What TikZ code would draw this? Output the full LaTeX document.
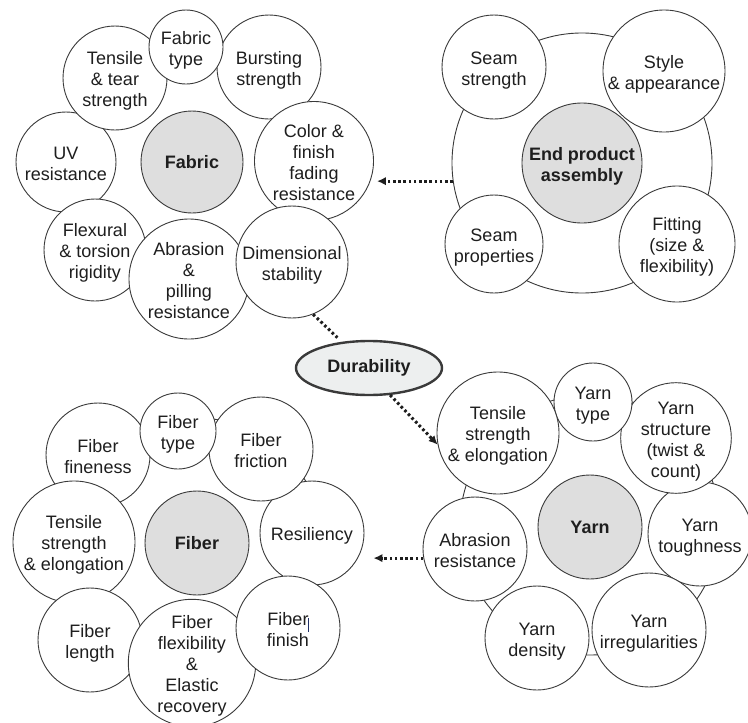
\documentclass[tikz,border=0pt]{standalone}
\usepackage{fontspec}
\setmainfont{Liberation Sans}
\usetikzlibrary{shapes.geometric,arrows.meta,calc}
\definecolor{ink}{HTML}{1E1E1E}
\definecolor{edge}{HTML}{3A3A3A}
\definecolor{hub}{HTML}{DEDEDE}
\definecolor{durfill}{HTML}{EDEFEF}
\definecolor{cursor}{HTML}{1F2F66}
% struts give every label the same height and depth, so the lines sit centred
\newcommand{\uprule}{\rule{0pt}{19pt}}
\newcommand{\dnrule}{\rule[-4pt]{0pt}{4pt}}
\newcommand{\lbl}[1]{\uprule#1\dnrule}
\begin{document}
\begin{tikzpicture}[x=1pt,y=-1pt,
  font=\fontsize{18}{21}\selectfont, text=ink,
  rad/.style={minimum size={2*#1pt}},
  bub/.style={circle, draw=edge, line width=0.9pt, fill=white, inner sep=0pt, align=center},
  hubc/.style={bub, fill=hub, font=\fontsize{18}{21}\selectfont\bfseries},
  ring/.style={circle, draw=edge, line width=0.9pt, fill=white, inner sep=0pt},
  dots/.style={draw=ink, line width=3pt, dash pattern=on 2.6pt off 2.6pt},
  darr/.style={dots, -{Latex[length=9pt,width=8.5pt]}}
]
\useasboundingbox (0,0) rectangle (748,723);
\fill[white] (0,0) rectangle (748,723);

% ---------- Fabric ----------
\node[bub,rad=50] (uv)   at (66,162)  {\lbl{UV\\resistance}};
\node[bub,rad=51] (flex) at (95,250)  {\lbl{Flexural\\\& torsion\\rigidity}};
\node[bub,rad=52] (tens) at (115,78)  {\lbl{Tensile\\\& tear\\strength}};
\node[bub,rad=52] (burst) at (269,67) {\lbl{Bursting\\strength}};
\node[bub,rad=37] (ftype) at (186,47) {\lbl{Fabric\\type}};
\node[bub,rad=56] (color) at (314,161) {\lbl{Color \&\\finish\\fading\\resistance}};
\node[bub,rad=60] (abr)  at (189,279) {\lbl{Abrasion\\\&\\pilling\\resistance}};
\node[bub,rad=56] (dim)  at (292,262) {\lbl{Dimensional\\stability}};
\node[hubc,rad=51] (fabric) at (192,162) {Fabric};

% ---------- End product assembly ----------
\node[ring,rad=130] (bigE) at (582,163) {};
\node[hubc,rad=60] (endp) at (582,163) {\lbl{End product\\assembly}};
\node[bub,rad=52] (sstr) at (494,67)  {\lbl{Seam\\strength}};
\node[bub,rad=61] (style) at (664,71) {\lbl{Style\\\& appearance}};
\node[bub,rad=49] (sprop) at (494,244) {\lbl{Seam\\properties}};
\node[bub,rad=58] (fit)  at (677,244) {\lbl{Fitting\\(size \&\\flexibility)}};

% ---------- Yarn ----------
\node[ring,rad=130] (bigY) at (590,525) {};
\node[hubc,rad=52] (yarn) at (590,527) {Yarn};
\node[bub,rad=52] (ydens) at (537,638) {\lbl{Yarn\\density}};
\node[bub,rad=52] (ytough) at (700,534) {\lbl{Yarn\\toughness}};
\node[bub,rad=57] (yirr) at (649,630) {\lbl{Yarn\\irregularities}};
\node[bub,rad=53] (ystruct) at (676,438) {\lbl{Yarn\\structure\\(twist \&\\count)}};
\node[bub,rad=39] (ytype) at (593,402) {\lbl{Yarn\\type}};
\node[bub,rad=61] (ytens) at (498,433) {\lbl{Tensile\\strength\\\& elongation}};
\node[bub,rad=52] (yabr) at (475,549) {\lbl{Abrasion\\resistance}};

% ---------- Fiber ----------
\node[ring,rad=125] (bigF) at (197,543) {};
\node[hubc,rad=52] (fiber) at (197,543) {Fiber};
\node[bub,rad=52] (ffine) at (98,455) {\lbl{Fiber\\fineness}};
\node[bub,rad=52] (resil) at (312,533) {\lbl{Resiliency}};
\node[bub,rad=52] (ffric) at (261,449) {\lbl{Fiber\\friction}};
\node[bub,rad=38] (fitype) at (178,431) {\lbl{Fiber\\type}};
\node[bub,rad=61] (ftens) at (74,542) {\lbl{Tensile\\strength\\\& elongation}};
\node[bub,rad=52] (flen) at (90,640) {\lbl{Fiber\\length}};
\node[bub,rad=62] (fflex) at (192,663) {\lbl{Fiber\\flexibility\\\&\\Elastic\\recovery}};
\node[bub,rad=52] (ffin) at (288,628) {\lbl{Fiber\\finish}};
\draw[cursor, line width=0.8pt] ($(ffin.center)+(20,-10)$) -- ($(ffin.center)+(20,4)$);

% ---------- Durability and links ----------
\node[ellipse, draw=edge, line width=2.4pt, fill=durfill, minimum width=146pt,
      minimum height=54pt, inner sep=0pt, font=\fontsize{18}{21}\selectfont\bfseries] (dur) at (369,368) {Durability};
\draw[dots, shorten >=6pt] (dim.-68) -- (dur);
\draw[darr] (dur.-52) -- (ytens.191);
\draw[darr, shorten >=3pt] (bigE.188) -- (color.east |- bigE.188);
\draw[darr, shorten >=9pt] (yabr.190) -- (resil.east |- yabr.190);
\end{tikzpicture}
\end{document}
